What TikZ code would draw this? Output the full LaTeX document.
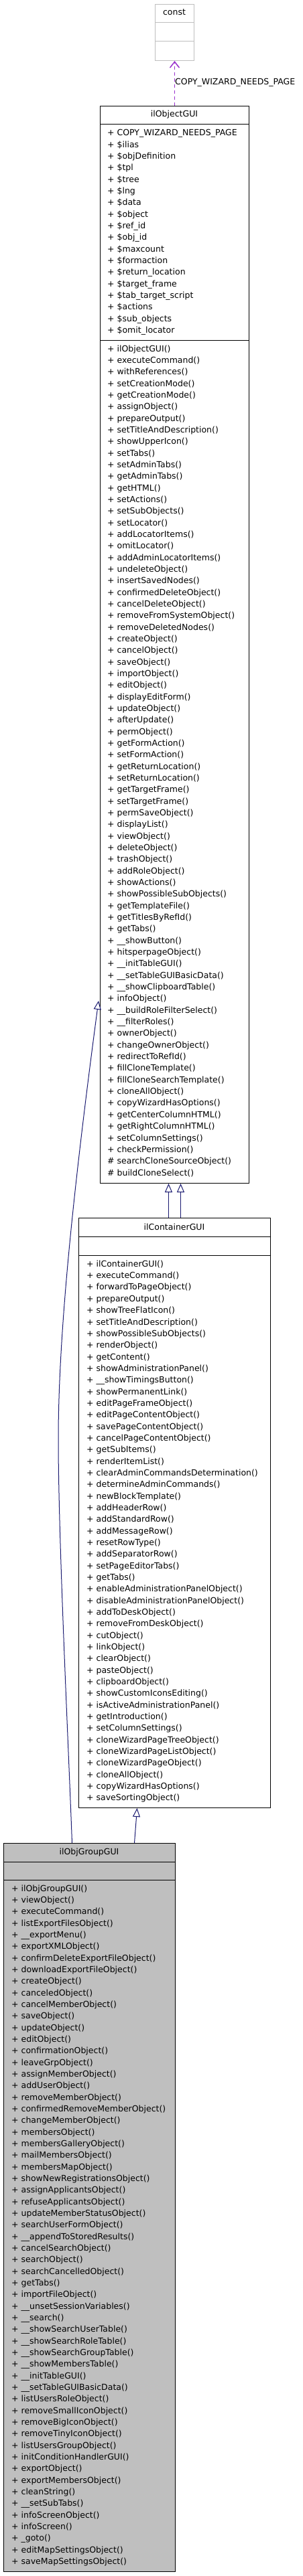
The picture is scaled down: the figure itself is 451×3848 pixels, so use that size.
\documentclass[tikz,border=0pt]{standalone}
\usepackage{fontspec}
\setmainfont{DejaVu Sans}
\usetikzlibrary{arrows.meta}
\definecolor{grey75}{RGB}{191,191,191}
\definecolor{midblue}{RGB}{25,25,112}
\definecolor{orchid3}{RGB}{154,50,205}
\begin{document}
\begin{tikzpicture}[x=1pt,y=-1pt,
  box/.style={draw=black, line width=1pt, fill=white, rectangle, inner sep=0pt, anchor=north west},
  sep/.style={draw=black, line width=1pt},
  txt/.style={inner sep=0pt, anchor=base west, font=\fontsize{12.5}{15}\selectfont},
  ttl/.style={inner sep=0pt, anchor=base, font=\fontsize{12.5}{15}\selectfont},
  inh/.style={draw=midblue, line width=1pt, -{Triangle[open, width=11pt, length=13pt]}},
  usesrel/.style={draw=orchid3, line width=1.5pt, dash pattern=on 5pt off 4pt, -{Straight Barb[length=9pt, width=14pt, line width=1.5pt]}}
]
\fill[white] (0,0) rectangle (451,3848);
\useasboundingbox (0,0) rectangle (451,3848);

% ---------- boxes ----------
\node[box, draw=grey75, minimum width=58pt, minimum height=84pt] (const) at (231,6) {};
\draw[grey75, line width=1pt] (231,34) -- (289,34) (231,62) -- (289,62);
\node[ttl] (constT) at (260,23) {const};

\node[box, minimum width=222pt, minimum height=1609pt] (objgui) at (149,158) {};
\draw[sep] (149,186) -- (371,186) (149,508) -- (371,508);
\node[ttl] (objT) at (260,174.5) {ilObjectGUI};

\node[box, minimum width=286pt, minimum height=881pt] (contgui) at (117,1819) {};
\draw[sep] (117,1847) -- (403,1847) (117,1875) -- (403,1875);
\node[ttl] (contT) at (260,1837.5) {ilContainerGUI};

\node[box, fill=grey75, minimum width=256pt, minimum height=1088pt] (grpgui) at (5,2753) {};
\draw[sep] (5,2781) -- (261,2781) (5,2808) -- (261,2808);
\node[ttl] (grpT) at (133,2770) {ilObjGroupGUI};

% ---------- ilObjectGUI attributes ----------
\foreach \t [count=\i from 0] in {COPY\_WIZARD\_NEEDS\_PAGE, \$ilias, \$objDefinition, \$tpl, \$tree, \$lng, \$data, \$object, \$ref\_id, \$obj\_id, \$maxcount, \$formaction, \$return\_location, \$target\_frame, \$tab\_target\_script, \$actions, \$sub\_objects, \$omit\_locator}
  \node[txt] (oa\i) at (160, 202.7+\i*17.338) {+ \t};

% ---------- ilObjectGUI methods ----------
\foreach \t [count=\i from 0] in {ilObjectGUI, executeCommand, withReferences, setCreationMode, getCreationMode, assignObject, prepareOutput, setTitleAndDescription, showUpperIcon, setTabs, setAdminTabs, getAdminTabs, getHTML, setActions, setSubObjects, setLocator, addLocatorItems, omitLocator, addAdminLocatorItems, undeleteObject, insertSavedNodes, confirmedDeleteObject, cancelDeleteObject, removeFromSystemObject, removeDeletedNodes, createObject, cancelObject, saveObject, importObject, editObject, displayEditForm, updateObject, afterUpdate, permObject, getFormAction, setFormAction, getReturnLocation, setReturnLocation, getTargetFrame, setTargetFrame, permSaveObject, displayList, viewObject, deleteObject, trashObject, addRoleObject, showActions, showPossibleSubObjects, getTemplateFile, getTitlesByRefId, getTabs, \_\_showButton, hitsperpageObject, \_\_initTableGUI, \_\_setTableGUIBasicData, \_\_showClipboardTable, infoObject, \_\_buildRoleFilterSelect, \_\_filterRoles, ownerObject, changeOwnerObject, redirectToRefId, fillCloneTemplate, fillCloneSearchTemplate, cloneAllObject, copyWizardHasOptions, getCenterColumnHTML, getRightColumnHTML, setColumnSettings, checkPermission}
  \node[txt] (om\i) at (160, 525+\i*17.338) {+ \t()};
\node[txt] (om70) at (160, 525+70*17.338) {\# searchCloneSourceObject()};
\node[txt] (om71) at (160, 525+71*17.338) {\# buildCloneSelect()};

% ---------- ilContainerGUI methods ----------
\foreach \t [count=\i from 0] in {ilContainerGUI, executeCommand, forwardToPageObject, prepareOutput, showTreeFlatIcon, setTitleAndDescription, showPossibleSubObjects, renderObject, getContent, showAdministrationPanel, \_\_showTimingsButton, showPermanentLink, editPageFrameObject, editPageContentObject, savePageContentObject, cancelPageContentObject, getSubItems, renderItemList, clearAdminCommandsDetermination, determineAdminCommands, newBlockTemplate, addHeaderRow, addStandardRow, addMessageRow, resetRowType, addSeparatorRow, setPageEditorTabs, getTabs, enableAdministrationPanelObject, disableAdministrationPanelObject, addToDeskObject, removeFromDeskObject, cutObject, linkObject, clearObject, pasteObject, clipboardObject, showCustomIconsEditing, isActiveAdministrationPanel, getIntroduction, setColumnSettings, cloneWizardPageTreeObject, cloneWizardPageListObject, cloneWizardPageObject, cloneAllObject, copyWizardHasOptions, saveSortingObject}
  \node[txt] (cm\i) at (129, 1892.3+\i*17.338) {+ \t()};

% ---------- ilObjGroupGUI methods ----------
\foreach \t [count=\i from 0] in {ilObjGroupGUI, viewObject, executeCommand, listExportFilesObject, \_\_exportMenu, exportXMLObject, confirmDeleteExportFileObject, downloadExportFileObject, createObject, canceledObject, cancelMemberObject, saveObject, updateObject, editObject, confirmationObject, leaveGrpObject, assignMemberObject, addUserObject, removeMemberObject, confirmedRemoveMemberObject, changeMemberObject, membersObject, membersGalleryObject, mailMembersObject, membersMapObject, showNewRegistrationsObject, assignApplicantsObject, refuseApplicantsObject, updateMemberStatusObject, searchUserFormObject, \_\_appendToStoredResults, cancelSearchObject, searchObject, searchCancelledObject, getTabs, importFileObject, \_\_unsetSessionVariables, \_\_search, \_\_showSearchUserTable, \_\_showSearchRoleTable, \_\_showSearchGroupTable, \_\_showMembersTable, \_\_initTableGUI, \_\_setTableGUIBasicData, listUsersRoleObject, removeSmallIconObject, removeBigIconObject, removeTinyIconObject, listUsersGroupObject, initConditionHandlerGUI, exportObject, exportMembersObject, cleanString, \_\_setSubTabs, infoScreenObject, infoScreen, \_goto, editMapSettingsObject, saveMapSettingsObject}
  \node[txt] (gm\i) at (17, 2825+\i*17.338) {+ \t()};

% ---------- connectors ----------
\draw[usesrel] (objgui.north) -- (const.south);
\node[txt] (lbl) at (261,126.4) {COPY\_WIZARD\_NEEDS\_PAGE};

\draw[inh] ([xshift=-9pt]contgui.north) -- ([xshift=-9pt]objgui.south);
\draw[inh] ([xshift=9pt]contgui.north) -- ([xshift=9pt]objgui.south);
\draw[inh] ([xshift=67pt]grpgui.north) -- ([xshift=-56pt]contgui.south);

\coordinate (bendL) at (87,2150);
\coordinate (tipL) at (147,1495);
\draw[inh] ([xshift=-26pt]grpgui.north) .. controls (102,2603) and (87,2300) .. (bendL)
  .. controls (87,2000) and (107,1795) .. (tipL);
\end{tikzpicture}
\end{document}
